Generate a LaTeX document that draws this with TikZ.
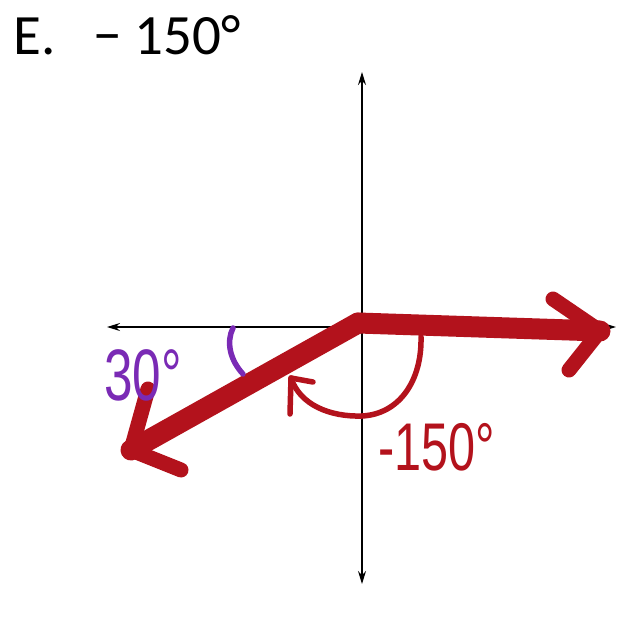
\documentclass[tikz,border=0pt]{standalone}
\usepackage{fontspec}
\setmainfont{Carlito}
\newfontfamily\handfont{Liberation Sans}
\usetikzlibrary{arrows.meta}
\definecolor{inkred}{HTML}{B3121C}
\definecolor{inkpurple}{HTML}{7A2AB5}
\begin{document}
\begin{tikzpicture}[x=1pt,y=-1pt,
  axisline/.style={line width=1.4pt, {Stealth[length=13pt,width=8pt]}-{Stealth[length=13pt,width=8pt]}},
  rayline/.style={inkred, line width=21pt, line cap=round, line join=round},
  barbline/.style={inkred, line width=15pt, line cap=round, line join=round},
  arcline/.style={inkred, line width=5.5pt, line cap=round, line join=round},
  purpline/.style={inkpurple, line width=5.5pt, line cap=round},
  handred/.style={inkred, font=\handfont\fontsize{54}{58}\selectfont},
  handpurple/.style={inkpurple, font=\handfont\fontsize{54}{58}\selectfont}]
\useasboundingbox (0,0) rectangle (624,621);
% title
\node[anchor=base west, inner sep=0pt, font=\fontsize{57}{60}\selectfont] (title) at (13,54) {E.\hspace{38pt}−~150°};
% axes
\coordinate (O) at (362,327);
\coordinate (top) at (362,72);
\coordinate (bot) at (362,584);
\coordinate (lft) at (107,327);
\coordinate (rgt) at (616,327);
\draw[axisline] (bot) -- (top);
\draw[axisline] (lft) -- (rgt);
% initial ray
\coordinate (O1) at (358,323);
\coordinate (R) at (600,331);
\coordinate (Ru) at (553,299);
\coordinate (Rd) at (569,370);
\draw[rayline] (O1) -- (R);
\draw[barbline] (Ru) -- (R) -- (Rd);
% terminal ray
\coordinate (T) at (131,450);
\coordinate (Tu) at (148,389);
\coordinate (Td) at (181,470);
\draw[rayline] (O1) -- (T);
\draw[barbline] (Tu) -- (T) -- (Td);
% angle arc
\coordinate (A1) at (421,337);
\coordinate (A5) at (291,378);
\coordinate (Ab1) at (313,382);
\coordinate (Ab2) at (290,414);
\draw[arcline] (A1) .. controls (422,380) and (400,414) .. (362,416)
  .. controls (330,417) and (300,405) .. (A5);
\draw[arcline] (Ab1) -- (A5) -- (Ab2);
% reference angle mark
\coordinate (P1) at (233,328);
\coordinate (P2) at (243,374);
\draw[purpline] (P1) .. controls (226,342) and (230,360) .. (P2);
% labels
\node[handpurple, inner sep=0pt] (lab30) at (143,375) {\scalebox{0.95}[1.35]{30°}};
\node[handred, inner sep=0pt] (lab150) at (437,447) {\scalebox{0.9}[1.25]{-150°}};
\end{tikzpicture}
\end{document}
